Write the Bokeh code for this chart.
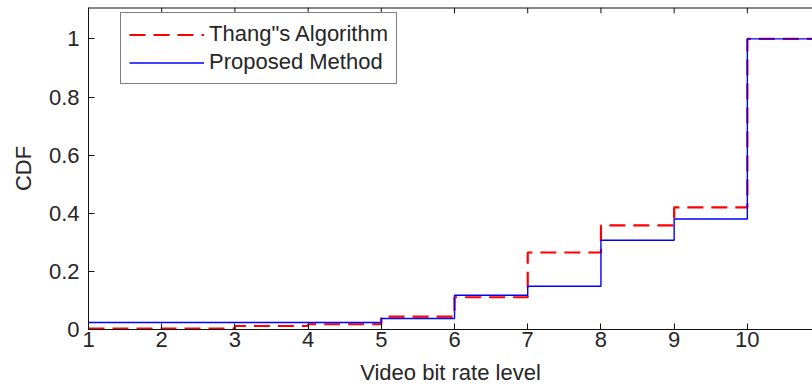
from bokeh.plotting import figure
from bokeh.models import (Legend, LegendItem, FixedTicker,
                          CustomJSTickFormatter, Range1d, Span)
from bokeh.embed import file_html
from bokeh.resources import INLINE

# Data
levels = [1, 2, 3, 4, 5, 6, 7, 8, 9, 10, 11]
thang_cdf = [0.003, 0.003, 0.012, 0.018, 0.044, 0.111, 0.265, 0.358, 0.42, 1.0, 1.0]
proposed_cdf = [0.024, 0.024, 0.024, 0.024, 0.038, 0.118, 0.149, 0.307, 0.38, 1.0, 1.0]
x_ticks = [1, 2, 3, 4, 5, 6, 7, 8, 9, 10]
y_ticks = [0, 0.2, 0.4, 0.6, 0.8, 1.0]
Y_TOP = 1.108
X_END = 10.89

FONT = "Liberation Sans"
TXT = "#262626"

p = figure(width=812, height=387, x_range=Range1d(1, X_END), y_range=Range1d(0, Y_TOP),
           output_backend="svg", toolbar_location=None,
           min_border_left=88, min_border_right=0, min_border_top=7, min_border_bottom=0)
p.outline_line_color = None
p.grid.visible = False
p.background_fill_color = "white"
p.border_fill_color = "white"

r_thang = p.step(levels, thang_cdf, mode="after", line_color="#ff0000",
                 line_width=2.2, line_dash="16 8")
r_prop = p.step(levels, proposed_cdf, mode="after", line_color="#0000ff",
                line_width=1.4)

fmt = CustomJSTickFormatter(code="var s = tick.toFixed(1); return s.endsWith('.0') ? s.slice(0, -2) : s;")

for ax in (p.xaxis[0], p.yaxis[0]):
    ax.major_tick_in = 6
    ax.major_tick_out = 0
    ax.minor_tick_line_color = None
    ax.axis_line_color = "#111111"
    ax.major_tick_line_color = "#111111"
    ax.major_label_text_font = FONT
    ax.major_label_text_font_size = "22px"
    ax.major_label_text_color = TXT
    ax.axis_label_text_font = FONT
    ax.axis_label_text_font_size = "22px"
    ax.axis_label_text_font_style = "normal"
    ax.axis_label_text_color = TXT

p.xaxis[0].ticker = FixedTicker(ticks=x_ticks)
p.xaxis[0].major_label_standoff = 2
p.xaxis[0].axis_label = "Video bit rate level"
p.xaxis[0].axis_label_standoff = 10
p.yaxis[0].ticker = FixedTicker(ticks=y_ticks)
p.yaxis[0].formatter = fmt
p.yaxis[0].major_label_standoff = 9
p.yaxis[0].axis_label = "CDF"
p.yaxis[0].axis_label_standoff = 10

# top box edge with inward ticks
p.add_layout(Span(location=Y_TOP, dimension="width", line_color="#111111", line_width=2))
p.segment(x0=x_ticks, y0=[Y_TOP] * len(x_ticks), x1=x_ticks,
          y1=[Y_TOP - 0.02] * len(x_ticks), line_color="#111111", line_width=1)

legend = Legend(items=[LegendItem(label='Thang"s Algorithm', renderers=[r_thang]),
                       LegendItem(label="Proposed Method", renderers=[r_prop])],
                location=(32, 245), border_line_color="black", border_line_width=1.2,
                background_fill_color="white", background_fill_alpha=1.0,
                label_text_font=FONT, label_text_font_size="22px", label_text_color=TXT,
                glyph_width=75, glyph_height=25, label_height=25, spacing=2,
                padding=8, label_standoff=5, margin=0)
p.add_layout(legend, "center")

open("out.html", "w").write(file_html(p, INLINE))
